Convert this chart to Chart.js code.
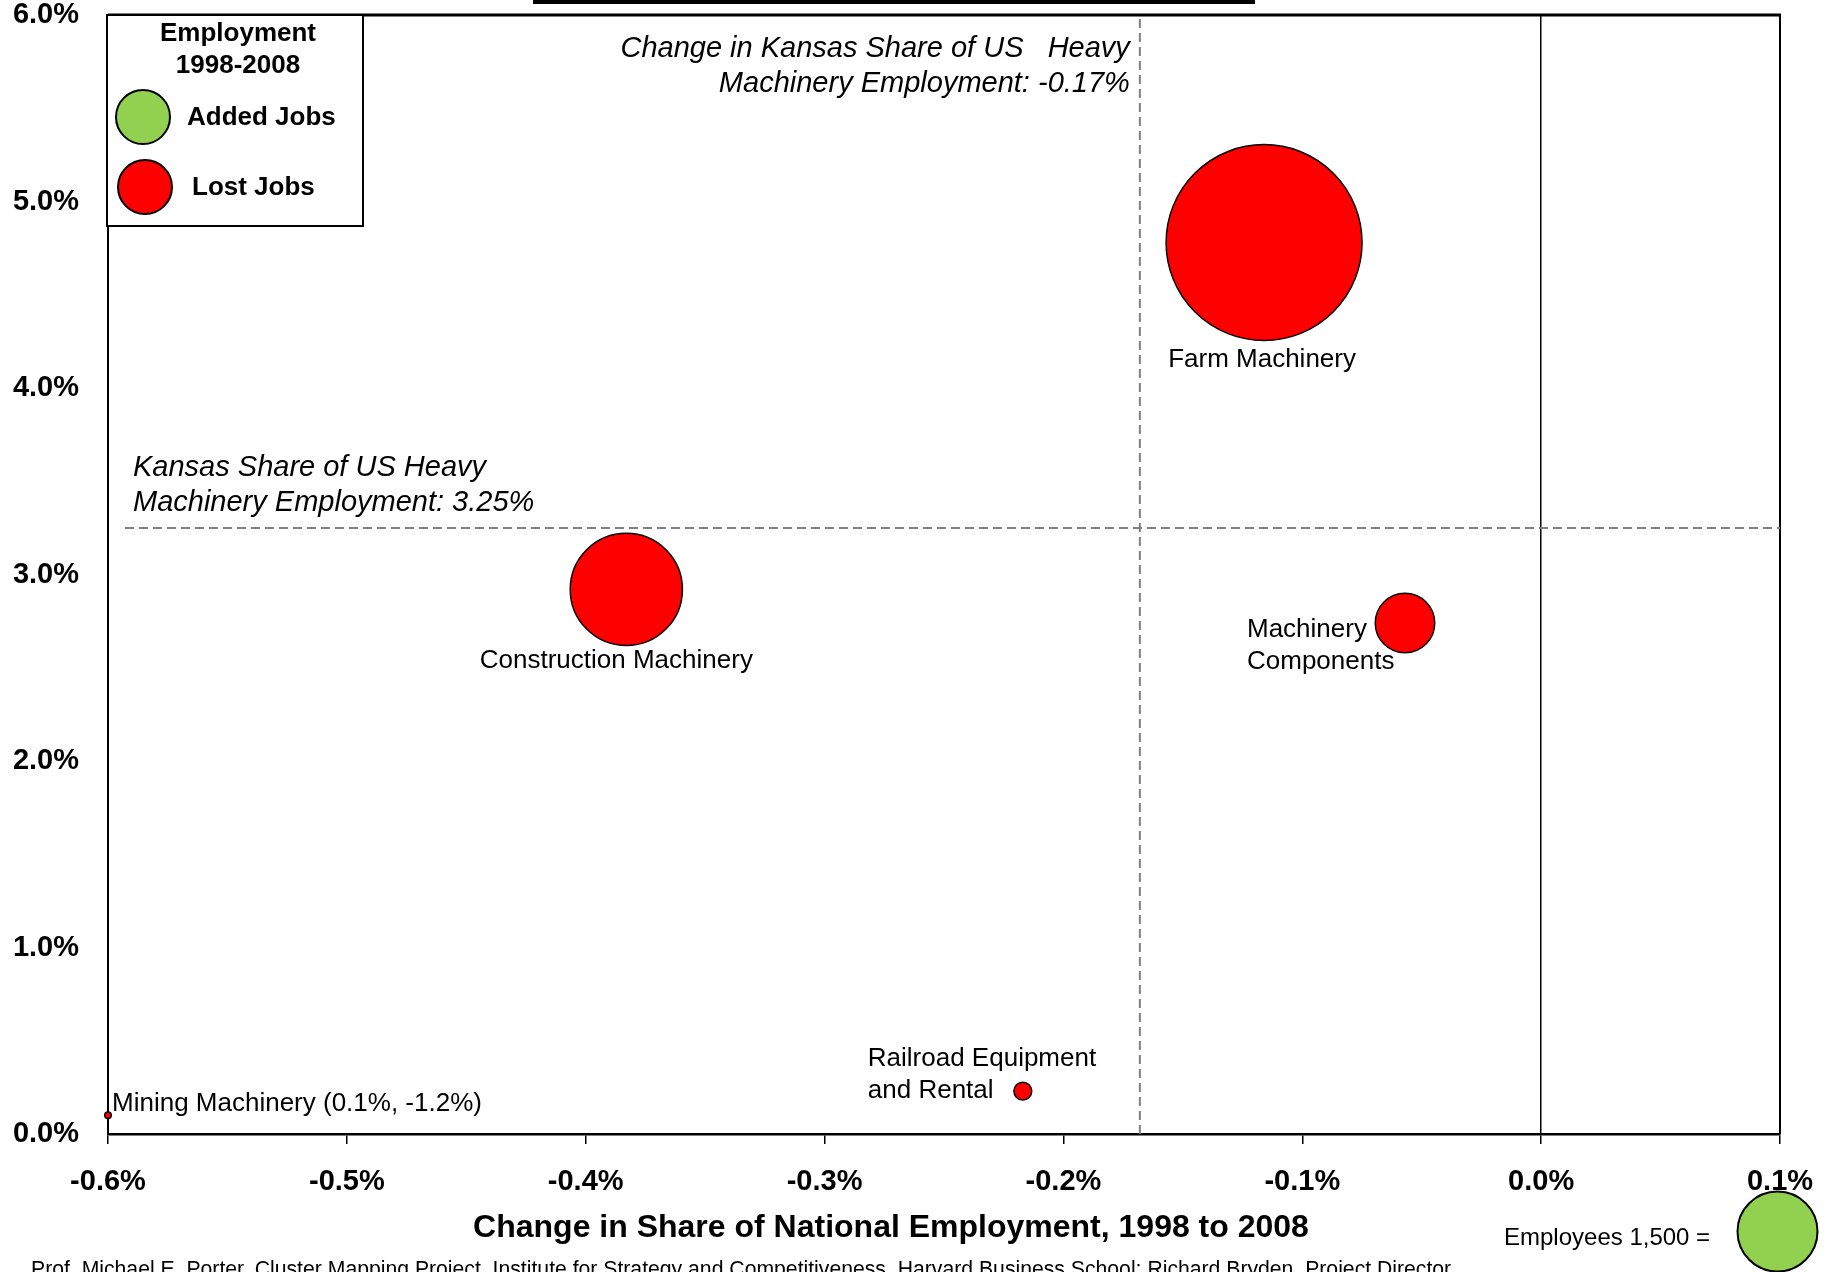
<!DOCTYPE html>
<html>
<head>
<meta charset="utf-8">
<title>Kansas Heavy Machinery Clusters</title>
<script src="https://cdn.jsdelivr.net/npm/chart.js@4.4.1/dist/chart.umd.min.js"></script>
<style>
  html, body { margin: 0; padding: 0; background: #fff; }
  canvas { display: block; }
</style>
</head>
<body>
<canvas id="bubbleChart" width="1829" height="1272"></canvas>
<script>
// values
const clusterLabels = [
  ['Farm Machinery'],
  ['Construction Machinery'],
  ['Machinery', 'Components'],
  ['Railroad Equipment', 'and Rental'],
  ['Mining Machinery (0.1%, -1.2%)']
]
const shareChange = [-0.116, -0.383, -0.057, -0.217, -0.6]   // x, change in share of national employment (%)
const stateShare = [4.78, 2.92, 2.74, 0.23, 0.10]           // y, Kansas share of US employment (%)
const employees = [9000, 2950, 830, 75, 10]
const addedJobs = [false, false, false, false, false]

const xTicks = [-0.6, -0.5, -0.4, -0.3, -0.2, -0.1, 0.0, 0.1]
const yTicks = [0, 1, 2, 3, 4, 5, 6]

const kansasShare = 3.25
const kansasShareChange = -0.168
const legendEmployees = 1500

// label placement next to each bubble (px offsets from the bubble centre)
const labelPlace = [
  { dx: -2, dy: 117, align: 'center' },
  { dx: -10, dy: 71, align: 'center' },
  { dx: -158, dy: 7, align: 'left' },
  { dx: -155, dy: -32, align: 'left' },
  { dx: 4, dy: -12, align: 'left' }
]

const FONT = 'Liberation Sans, Arial, sans-serif'
const GREEN = '#92D050'
const RED = '#FF0000'
const bubbleScale = 40   // radius in px of a 1,500 employee bubble

const radiusFor = n => bubbleScale * Math.sqrt(n / legendEmployees)
const pct = v => (Math.abs(v) < 1e-9 ? 0 : v).toFixed(1) + '%'

Chart.defaults.font.family = FONT
Chart.defaults.color = '#000'

function circle(ctx, x, y, r, fill) {
  ctx.beginPath()
  ctx.arc(x, y, r, 0, Math.PI * 2)
  ctx.fillStyle = fill
  ctx.fill()
  ctx.lineWidth = 2
  ctx.strokeStyle = '#000'
  ctx.stroke()
}

// frame and the two dashed reference lines
const referenceLines = {
  id: 'referenceLines',
  beforeDatasetsDraw(chart) {
    const { ctx, chartArea: area, scales: { x, y } } = chart
    ctx.save()
    ctx.strokeStyle = '#000'
    ctx.lineWidth = 2
    ctx.beginPath()
    ctx.moveTo(area.right, area.top)
    ctx.lineTo(area.right, area.bottom)
    ctx.stroke()
    ctx.lineWidth = 3
    ctx.beginPath()
    ctx.moveTo(area.left, area.top)
    ctx.lineTo(area.right + 1, area.top)
    ctx.stroke()

    ctx.strokeStyle = '#808080'
    ctx.lineWidth = 2
    ctx.setLineDash([9, 5])
    const vx = x.getPixelForValue(kansasShareChange)
    ctx.beginPath()
    ctx.moveTo(vx, area.top + 4)
    ctx.lineTo(vx, area.bottom)
    ctx.stroke()
    const hy = y.getPixelForValue(kansasShare)
    ctx.beginPath()
    ctx.moveTo(area.left + 17, hy)
    ctx.lineTo(area.right, hy)
    ctx.stroke()
    ctx.restore()
  }
}

// texts, legend and the rest drawn on top
const annotations = {
  id: 'annotations',
  afterDatasetsDraw(chart) {
    const { ctx, chartArea: area, scales: { x, y } } = chart
    const meta = chart.getDatasetMeta(0)
    ctx.save()
    ctx.fillStyle = '#000'
    ctx.textBaseline = 'middle'

    // bubble labels
    ctx.font = '26px ' + FONT
    meta.data.forEach((pt, i) => {
      const p = labelPlace[i]
      ctx.textAlign = p.align
      clusterLabels[i].forEach((line, j) => {
        ctx.fillText(line, pt.x + p.dx, pt.y + p.dy + j * 32)
      })
    })

    // reference line notes
    ctx.font = 'italic 29px ' + FONT
    const vx = x.getPixelForValue(kansasShareChange)
    ctx.textAlign = 'right'
    ctx.fillText('Change in Kansas Share of US   Heavy', vx - 10, 49)
    ctx.fillText('Machinery Employment: ' + kansasShareChange.toFixed(2) + '%', vx - 10, 84)
    const hy = y.getPixelForValue(kansasShare)
    ctx.textAlign = 'left'
    ctx.fillText('Kansas Share of US Heavy', area.left + 25, hy - 60)
    ctx.fillText('Machinery Employment: ' + kansasShare.toFixed(2) + '%', area.left + 25, hy - 25)

    // legend box
    ctx.fillStyle = '#fff'
    ctx.fillRect(107, 15, 256, 211)
    ctx.strokeStyle = '#000'
    ctx.lineWidth = 2
    ctx.strokeRect(107, 15, 256, 211)
    ctx.fillStyle = '#000'
    ctx.font = 'bold 26px ' + FONT
    ctx.textAlign = 'center'
    ctx.fillText('Employment', 238, 34)
    ctx.fillText('1998-2008', 238, 66)
    circle(ctx, 143, 117, 27, GREEN)
    circle(ctx, 145, 187, 27, RED)
    ctx.fillStyle = '#000'
    ctx.textAlign = 'left'
    ctx.fillText('Added Jobs', 187, 118)
    ctx.fillText('Lost Jobs', 192, 188)

    // bubble size key
    ctx.font = '24px ' + FONT
    ctx.fillText('Employees ' + legendEmployees.toLocaleString('en-US') + ' =', 1504, 1238)
    circle(ctx, 1777.5, 1231.5, radiusFor(legendEmployees), GREEN)

    // x axis title
    ctx.fillStyle = '#000'
    ctx.font = 'bold 32px ' + FONT
    ctx.textAlign = 'center'
    ctx.fillText('Change in Share of National Employment, 1998 to 2008', 891, 1228)

    // bottom edge of the (cut off) title box
    ctx.fillRect(533, 0, 722, 4)

    // source line, cut off by the bottom of the picture
    ctx.font = '21.2px ' + FONT
    ctx.textAlign = 'left'
    ctx.textBaseline = 'top'
    ctx.fillText('Prof. Michael E. Porter, Cluster Mapping Project, Institute for Strategy and Competitiveness, Harvard Business School; Richard Bryden, Project Director', 31, 1260)
    ctx.restore()
  }
}

const ctx = document.getElementById('bubbleChart').getContext('2d')

const bubbleChart = new Chart(ctx, {
  type: 'bubble',
  data: {
    datasets: [{
      label: 'Employment 1998-2008',
      data: shareChange.map((v, i) => ({ x: v, y: stateShare[i], r: radiusFor(employees[i]) })),
      backgroundColor: addedJobs.map(a => a ? GREEN : RED),
      borderColor: '#000',
      borderWidth: 1.5,
      clip: false
    }]
  },
  options: {
    responsive: false,
    animation: false,
    events: [],
    layout: { autoPadding: false, padding: { top: 15, right: 49, left: 0, bottom: 0 } },
    plugins: {
      legend: { display: false },
      tooltip: { enabled: false }
    },
    scales: {
      x: {
        type: 'linear',
        min: xTicks[0],
        max: xTicks[xTicks.length - 1],
        afterBuildTicks: scale => { scale.ticks = xTicks.map(v => ({ value: v })) },
        afterFit: scale => {
          scale.height = 138
          scale.paddingLeft = 0
          scale.paddingRight = 0
        },
        ticks: {
          font: { size: 29, weight: 'bold', lineHeight: 1 },
          padding: 23,
          maxRotation: 0,
          autoSkip: false,
          callback: v => pct(v)
        },
        grid: {
          drawOnChartArea: true,
          color: c => (c.tick && Math.abs(c.tick.value) < 1e-9) ? '#000' : 'rgba(0,0,0,0)',
          lineWidth: 1.5,
          tickColor: '#000',
          tickLength: 10,
          tickWidth: 1.5
        },
        border: { display: true, color: '#000', width: 2.5 }
      },
      y: {
        type: 'linear',
        min: yTicks[0],
        max: yTicks[yTicks.length - 1],
        afterBuildTicks: scale => { scale.ticks = yTicks.map(v => ({ value: v })) },
        afterFit: scale => {
          scale.width = 108
          scale.paddingTop = 0
          scale.paddingBottom = 0
        },
        ticks: {
          font: { size: 29, weight: 'bold', lineHeight: 1 },
          padding: 21,
          callback: v => pct(v)
        },
        grid: { display: false },
        border: { display: true, color: '#000', width: 2 }
      }
    }
  },
  plugins: [referenceLines, annotations]
})
</script>
</body>
</html>
